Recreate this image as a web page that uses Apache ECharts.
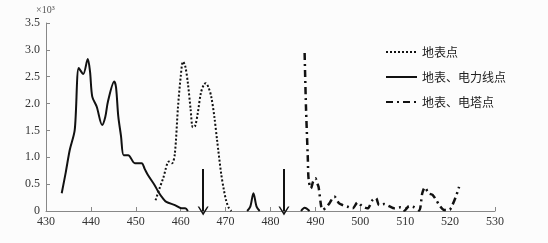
<!DOCTYPE html>
<html><head><meta charset="utf-8">
<script src="https://cdn.jsdelivr.net/npm/echarts@6/dist/echarts.min.js"></script>
<style>html,body{margin:0;padding:0;background:#fcfcfc}#c{width:548px;height:243px}</style>
</head><body><div id="c"></div>
<script>
const seriesNames = ['地表点', '地表、电力线点', '地表、电塔点'];
const groundPts = [[454.4,0.2],[455.2,0.4],[456.1,0.61],[457.4,0.92],[458.1,0.89],[458.7,1.07],[459.4,1.94],[460.0,2.5],[460.5,2.78],[461.0,2.7],[461.6,2.38],[462.2,1.9],[462.7,1.56],[463.2,1.58],[463.8,1.82],[464.5,2.2],[465.2,2.36],[465.6,2.38],[466.2,2.3],[466.8,2.13],[467.5,1.75],[468.1,1.32],[469,0.70],[469.6,0.4],[470.1,0.2],[470.7,0.06],[471.3,0]];
const powerLinePts = [[433.5,0.33],[434.4,0.72],[435.3,1.14],[436.4,1.51],[437.3,2.66],[438.3,2.55],[439.3,2.83],[439.8,2.6],[440.3,2.13],[441.3,1.94],[442.5,1.60],[443.2,1.75],[443.8,2.04],[445.2,2.41],[445.6,2.3],[446.1,1.76],[446.7,1.4],[447.3,1.04],[448.3,1.04],[449.8,0.89],[451.3,0.89],[452.0,0.78],[452.7,0.67],[454.2,0.48],[455.0,0.36],[456.0,0.24],[456.8,0.17],[458.7,0.11],[460.2,0.05],[461.0,0.05],[461.6,0.0],[468,null],[474.8,0],[475.5,0.08],[476.2,0.33],[476.9,0.08],[477.6,0],[482,null],[486.8,0],[487.6,0.06],[488.7,0]];
const towerPts = [[487.6,2.94],[487.9,1.94],[488.3,1.01],[488.5,0.58],[489,0.42],[489.5,0.55],[490,0.61],[490.4,0.52],[490.7,0.45],[491.3,0.08],[491.6,0.02],[492.3,0.06],[493.1,0.14],[494.2,0.27],[495.3,0.14],[496.1,0.11],[497.2,0.08],[498.3,0.05],[499.4,0.16],[500.4,0.09],[501.6,0.05],[502.7,0.2],[503.5,0.24],[504.2,0.11],[505.3,0.13],[506.4,0.09],[507.6,0.05],[509,0.07],[509.8,0.01],[510.9,0.09],[512,0.07],[513.1,0.01],[513.8,0.33],[514.4,0.44],[515.2,0.33],[516.1,0.30],[517,0.19],[517.6,0.11],[518.7,0.02],[519.8,0.02],[520.5,0.11],[521.3,0.27],[522,0.45]];
const arrowX = [465, 483];
const arrowTop = 0.78;
const xMin = 430, xMax = 530, xStep = 10;
const yMin = 0, yMax = 3.5, yStep = 0.5;

const serif = '"Liberation Serif","DejaVu Serif",serif';
const chart = echarts.init(document.getElementById('c'));
const arrowSym = 'path://M0,10 L5,0 L10,10 L8.6,10 L5,3.2 L1.4,10 Z';
chart.setOption({
  backgroundColor: '#fcfcfc',
  animation: false,
  grid: {left: 46, right: 53, top: 23, bottom: 32},
  graphic: [{type: 'text', left: 36, top: 5, style: {text: '×10³', font: '10px ' + serif, fill: '#555'}}],
  legend: {
    orient: 'vertical', left: 380, top: 41, itemWidth: 31, itemHeight: 10, itemGap: 13,
    itemStyle: {opacity: 0, borderWidth: 0},
    textStyle: {fontFamily: '"Noto Sans CJK SC"', fontSize: 12, color: '#222'},
    data: seriesNames
  },
  xAxis: {
    type: 'value', min: xMin, max: xMax, interval: xStep,
    axisLine: {lineStyle: {color: '#888', width: 1}},
    axisTick: {inside: true, length: 4, lineStyle: {color: '#888'}},
    splitLine: {show: false},
    axisLabel: {fontFamily: serif, fontSize: 12, color: '#333', margin: 5}
  },
  yAxis: {
    type: 'value', min: yMin, max: yMax, interval: yStep,
    axisLine: {show: true, lineStyle: {color: '#888', width: 1}},
    axisTick: {show: true, inside: true, length: 4, lineStyle: {color: '#888'}},
    splitLine: {show: false},
    axisLabel: {fontFamily: serif, fontSize: 12, color: '#333', margin: 6,
      formatter: v => v === 0 ? '0' : v.toFixed(1)}
  },
  series: [
    {name: seriesNames[0], type: 'line', data: groundPts, showSymbol: false, symbol: 'none', smooth: 0.3,
      lineStyle: {color: '#111', width: 2, type: [2, 2]}, itemStyle: {color: '#111'}},
    {name: seriesNames[1], type: 'line', data: powerLinePts, showSymbol: false, symbol: 'none', smooth: 0.3,
      connectNulls: false,
      lineStyle: {color: '#111', width: 2}, itemStyle: {color: '#111'},
      markLine: {silent: true, symbol: ['none', arrowSym], symbolSize: [11, 9], label: {show: false},
        lineStyle: {color: '#111', width: 2, type: 'solid'},
        data: arrowX.map(x => [{coord: [x, arrowTop]}, {coord: [x, 0]}])}},
    {name: seriesNames[2], type: 'line', data: towerPts, showSymbol: false, symbol: 'none', smooth: 0.3,
      lineStyle: {color: '#111', width: 2.5, type: [7, 4, 2, 4]}, itemStyle: {color: '#111'}}
  ]
});
</script></body></html>
